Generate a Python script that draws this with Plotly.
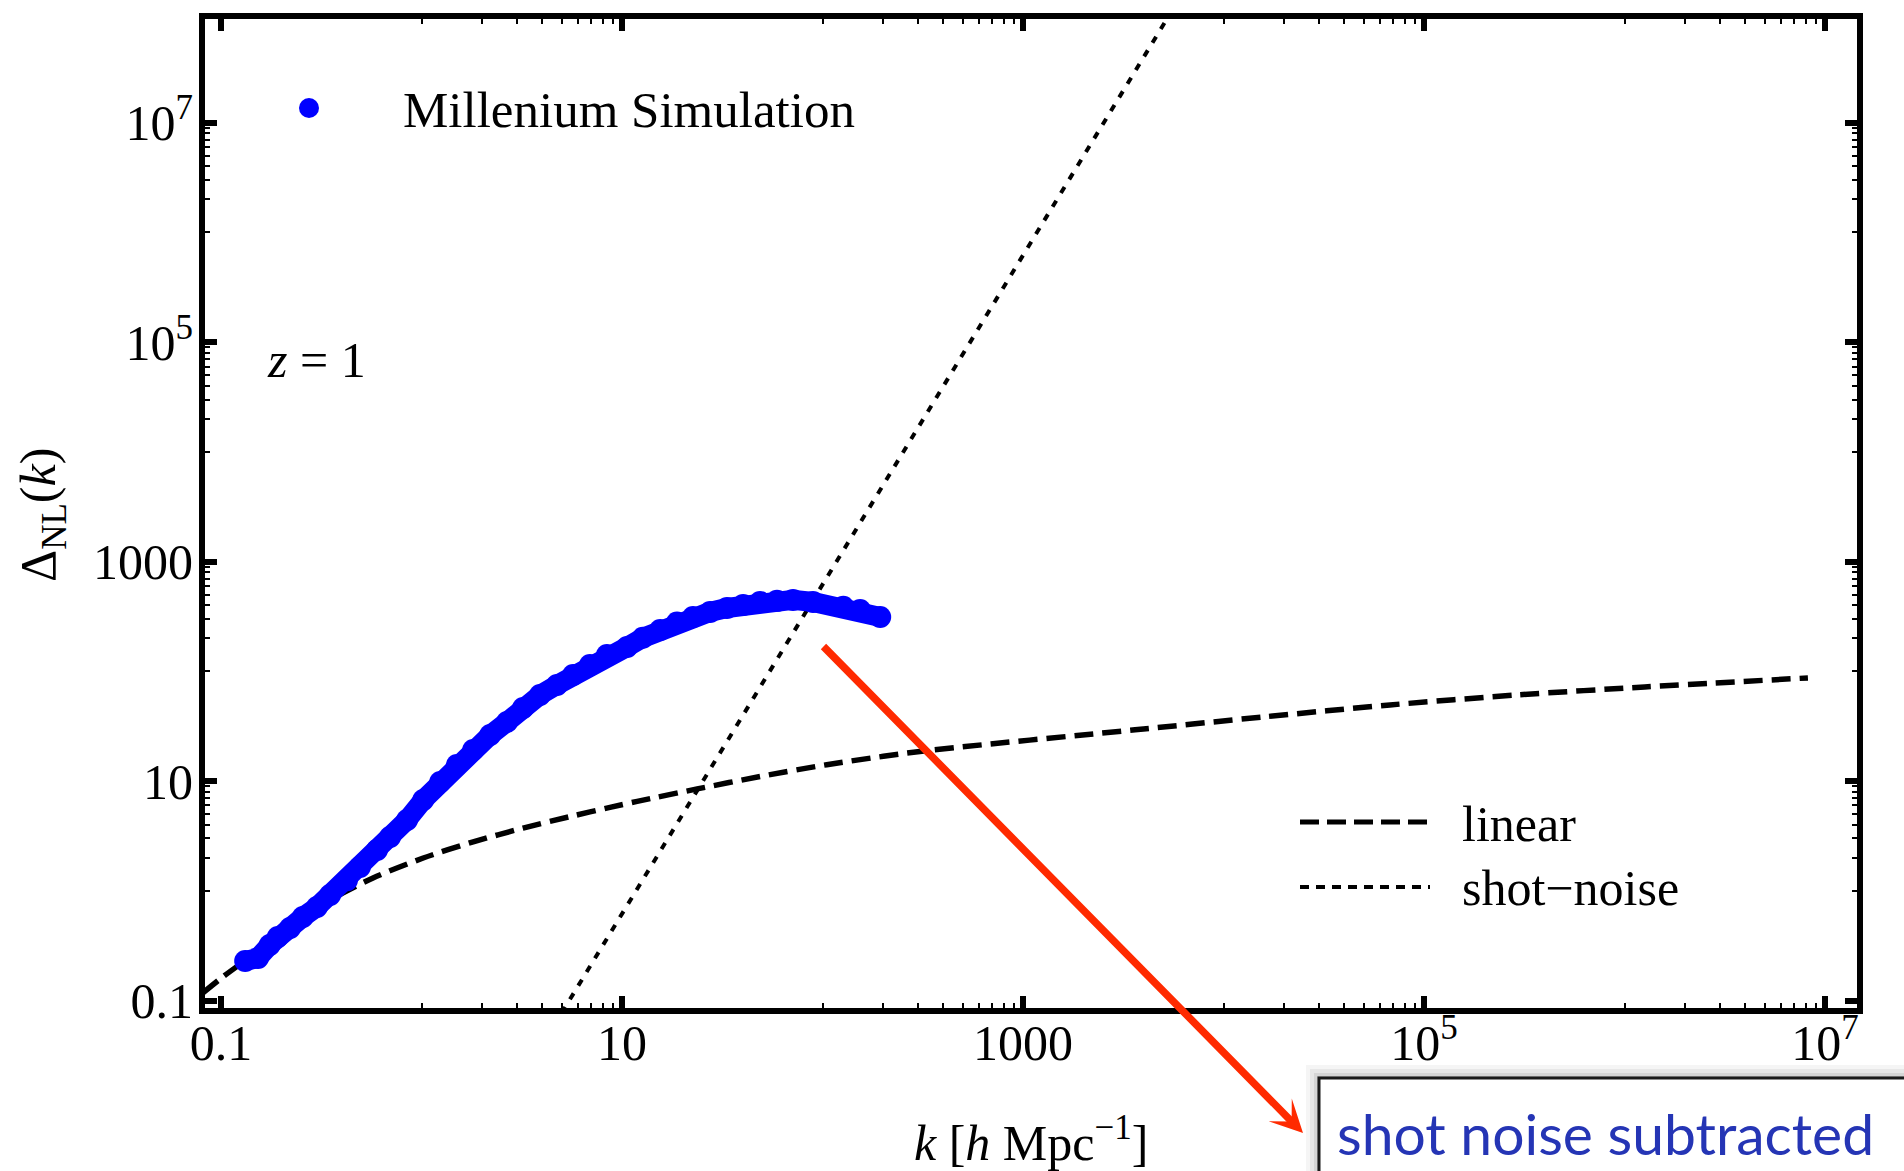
import plotly.graph_objects as go

# ---- data ---------------------------------------------------------------
# Millennium Simulation nonlinear power spectrum, z = 1
sim_k = [0.132, 0.153, 0.175, 0.192, 0.221, 0.256, 0.301, 0.350, 0.425, 0.493,
         0.600, 0.697, 0.847, 1.02, 1.24, 1.50, 1.81, 2.20, 2.67, 3.21,
         3.90, 4.74, 5.70, 6.92, 8.41, 10.6, 12.7, 15.5, 18.8, 22.6,
         27.5, 33.4, 40.2, 48.8, 59.3, 71.3, 89.7, 127, 154, 194]
sim_delta = [0.229, 0.244, 0.321, 0.379, 0.458, 0.577, 0.711, 0.916, 1.25, 1.65,
             2.35, 3.09, 4.42, 6.72, 9.82, 14.0, 19.2, 26.3, 34.6, 46.4,
             60.9, 75.1, 92.7, 114, 141, 167, 202, 238, 279, 313,
             348, 378, 403, 429, 439, 448, 429, 387, 363, 313]

# linear theory
lin_k = [0.081, 0.102, 0.151, 0.221, 0.350, 0.573, 1.02, 1.81, 3.21, 5.70,
         8.71, 11.9, 23.7, 48.8, 105, 306, 3622, 15740, 67600, 294000,
         1.26e6, 8.22e6]
lin_delta = [0.117, 0.164, 0.277, 0.468, 0.824, 1.31, 1.99, 2.79, 3.73, 4.82,
             5.76, 6.53, 8.48, 11.0, 14.1, 18.6, 29.3, 38.4, 49.4, 61.0,
             72.1, 87.1]

# shot-noise level (straight line in log-log)
shot_k = [5.0, 5500]
shot_delta = [0.077, 1.03e8]

# axis ticks
major_ticks = [0.1, 10, 1000, 1e5, 1e7]
major_text = ["0.1", "10", "1000", "10<sup>5</sup>", "10<sup>7</sup>"]
minor_ticks = [m * f / 10 for m in [10, 1000, 1e5, 1e7] for f in range(1, 10)]

# ---- layout geometry (pixels) ------------------------------------------
W, H = 1904, 1171
L, R, T, B = 205, 1857, 19, 1008


def px(x):
    return (x - L) / (R - L)


def py(y):
    return (B - y) / (B - T)


SERIF = "Liberation Serif, Times New Roman, serif"
BLUE = "#0000ff"
RED = "#ff2a00"

fig = go.Figure()

fig.add_trace(go.Scatter(
    x=shot_k, y=shot_delta, mode="lines",
    line=dict(color="black", width=4, dash="7px,9px"),
    showlegend=False, hoverinfo="skip"))

fig.add_trace(go.Scatter(
    x=lin_k, y=lin_delta, mode="lines",
    line=dict(color="black", width=5.5, dash="19px,9px", shape="spline", smoothing=0.8),
    showlegend=False, hoverinfo="skip"))

fig.add_trace(go.Scatter(
    x=sim_k, y=sim_delta, mode="lines+markers",
    line=dict(color=BLUE, width=20),
    marker=dict(color=BLUE, size=22, line=dict(width=0)),
    showlegend=False))

axis_common = dict(
    type="log",
    showline=True, linewidth=6, linecolor="black", mirror="ticks",
    ticks="inside", ticklen=12, tickwidth=6, tickcolor="black",
    tickmode="array", tickvals=major_ticks, ticktext=major_text,
    tickfont=dict(family=SERIF, size=50, color="black"),
    showgrid=False, zeroline=False,
    minor=dict(tickmode="array", tickvals=minor_ticks, ticks="inside",
               ticklen=5, tickwidth=2, tickcolor="black", showgrid=False),
)

fig.update_layout(
    width=W, height=H,
    margin=dict(l=L, r=W - R, t=T, b=H - B, autoexpand=False),
    paper_bgcolor="white", plot_bgcolor="white",
    xaxis=dict(range=[-1.0798, 7.1596], ticklabelstandoff=-14, **axis_common),
    yaxis=dict(range=[-1.068, 7.945], ticklabelstandoff=-4, **axis_common),
)

shapes = []
# drop shadow and frame of the callout box
for d, op in [(13, 0.05), (9, 0.07), (5, 0.10), (2, 0.14)]:
    shapes.append(dict(type="rect", xref="paper", yref="paper",
                       x0=px(1319 - d), x1=px(1990), y0=py(1078 - d), y1=py(1250),
                       fillcolor="rgb(60,60,60)", opacity=op, line=dict(width=0)))
shapes.append(dict(type="rect", xref="paper", yref="paper",
                   x0=px(1319), x1=px(1990), y0=py(1078), y1=py(1250),
                   fillcolor="white", line=dict(color="#1a1a1a", width=3)))
# legend keys
shapes.append(dict(type="circle", xref="paper", yref="paper",
                   xsizemode="pixel", ysizemode="pixel",
                   xanchor=px(309), yanchor=py(108),
                   x0=-10, x1=10, y0=-10, y1=10,
                   fillcolor=BLUE, line=dict(width=0)))
shapes.append(dict(type="line", xref="paper", yref="paper",
                   x0=px(1300), x1=px(1430), y0=py(822), y1=py(822),
                   line=dict(color="black", width=5, dash="19px,8px")))
shapes.append(dict(type="line", xref="paper", yref="paper",
                   x0=px(1300), x1=px(1430), y0=py(887), y1=py(887),
                   line=dict(color="black", width=4, dash="9px,7px")))

annotations = [
    dict(text="Millenium Simulation", x=px(401), y=py(110), xref="paper", yref="paper",
         xanchor="left", yanchor="middle", showarrow=False,
         font=dict(family=SERIF, size=51, color="black")),
    dict(text="<i>z</i> = 1", x=px(265), y=py(360), xref="paper", yref="paper",
         xanchor="left", yanchor="middle", showarrow=False,
         font=dict(family=SERIF, size=50, color="black")),
    dict(text="linear", x=px(1460), y=py(824), xref="paper", yref="paper",
         xanchor="left", yanchor="middle", showarrow=False,
         font=dict(family=SERIF, size=50, color="black")),
    dict(text="shot\u2212noise", x=px(1460), y=py(888), xref="paper", yref="paper",
         xanchor="left", yanchor="middle", showarrow=False,
         font=dict(family=SERIF, size=50, color="black")),
    # axis titles
    dict(text="<i>k</i> [<i>h</i> Mpc<sup>\u22121</sup>]", x=px(1031), y=py(1139),
         xref="paper", yref="paper", xanchor="center", yanchor="middle",
         showarrow=False, font=dict(family=SERIF, size=50, color="black")),
    dict(text="\u0394<sub>NL</sub>(<i>k</i>)", x=px(42), y=py(515),
         xref="paper", yref="paper", xanchor="center", yanchor="middle",
         textangle=-90, showarrow=False,
         font=dict(family=SERIF, size=50, color="black")),
    # callout
    dict(text="", x=px(1303), y=py(1133), xref="paper", yref="paper",
         ax=822 - 1303, ay=645 - 1133, axref="pixel", ayref="pixel",
         showarrow=True, arrowhead=3, arrowwidth=7.5, arrowsize=0.72,
         arrowcolor=RED, standoff=0, startstandoff=0),
    dict(text="shot noise subtracted", x=px(1335), y=py(1133), xref="paper", yref="paper",
         xanchor="left", yanchor="middle", showarrow=False,
         font=dict(family="Lato, Open Sans, sans-serif", size=57, color="#2535b5")),
]

fig.update_layout(shapes=shapes, annotations=annotations)

fig.write_html("out.html")
